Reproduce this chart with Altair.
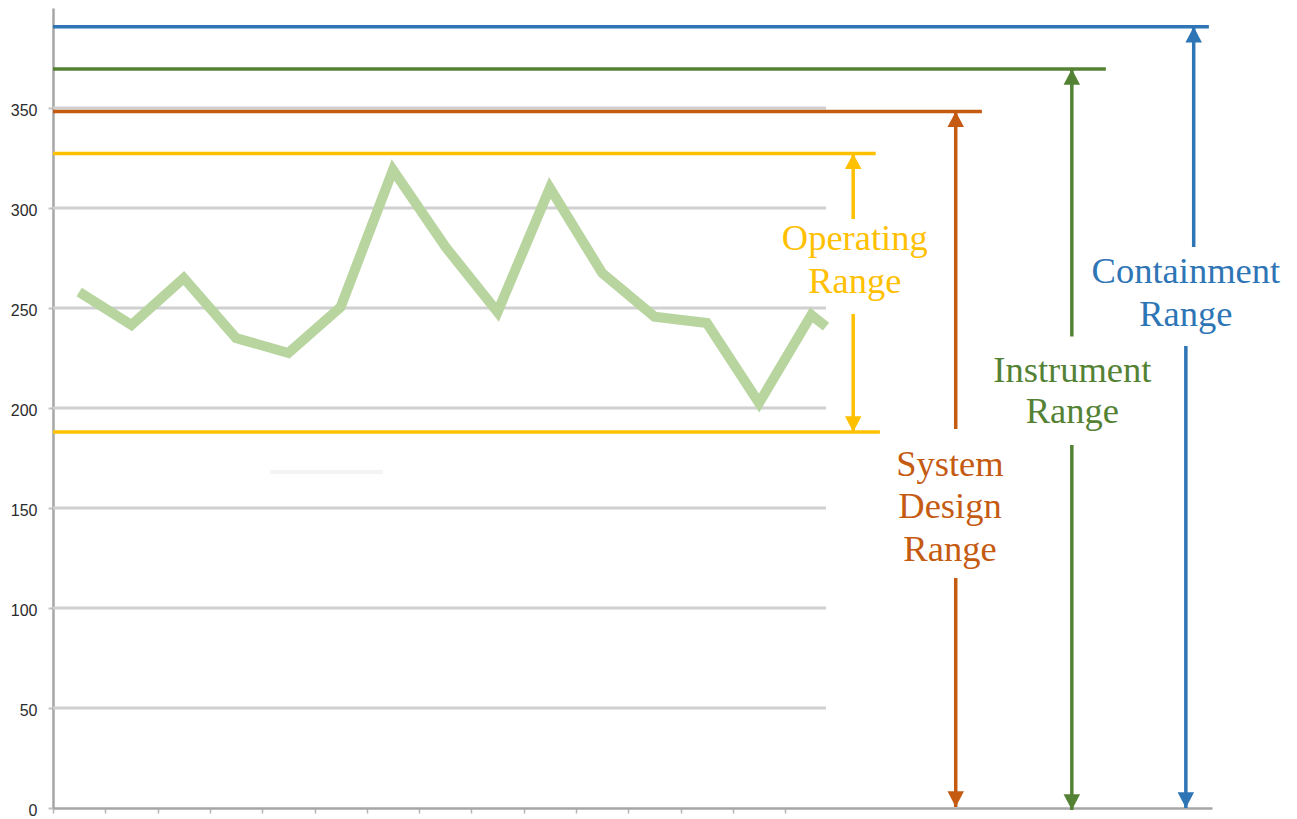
import altair as alt
import pandas as pd

# ---------------- data ----------------
# measured series (category index -> value); last entry is where the visible line is cut off
series_x = [1, 2, 3, 4, 5, 6, 7, 8, 9, 10, 11, 12, 13, 14, 15, 15.28]
series_y = [258, 241.5, 265, 235, 227.5, 250.5, 319, 280.7, 248, 310, 267.5, 245.7, 242.5, 202.5, 246.5, 240.7]

grid_values = [50, 100, 150, 200, 250, 300, 350]
grid_end = 15.28
y_tick_values = [0, 50, 100, 150, 200, 250, 300, 350]
x_tick_values = [0.5 + k for k in range(15)]

BLUE, GREEN, ORANGE, YELLOW = "#2e75b6", "#548235", "#c55a11", "#ffc000"

# horizontal range limit lines
range_level = [390.6, 369.5, 348.3, 327.3, 188.0]
range_end = [22.60, 20.63, 18.26, 16.23, 16.31]
range_color = [BLUE, GREEN, ORANGE, YELLOW, YELLOW]

# vertical arrow segments (x, from, to)
seg_x = [15.80, 15.80, 17.76, 17.76, 19.98, 19.98, 22.31, 22.16]
seg_y = [327.3, 247.0, 348.3, 115.0, 369.5, 181.5, 390.6, 231.0]
seg_y2 = [294.5, 188.0, 189.5, 0.5, 235.7, -1.0, 280.5, 0.0]
seg_color = [YELLOW, YELLOW, ORANGE, ORANGE, GREEN, GREEN, BLUE, BLUE]

# arrow heads
up_x = [15.80, 17.76, 19.98, 22.31]
up_y = [327.3, 348.3, 369.5, 390.6]
up_color = [YELLOW, ORANGE, GREEN, BLUE]
down_x = [15.80, 17.76, 19.98, 22.16]
down_y = [188.0, 0.5, -1.0, 0.0]
down_color = [YELLOW, ORANGE, GREEN, BLUE]

# labels (one row per text line)
label_text = ["Operating", "Range", "System", "Design", "Range", "Instrument", "Range", "Containment", "Range"]
label_x = [15.83, 15.83, 17.65, 17.65, 17.65, 19.99, 19.99, 22.16, 22.16]
label_y = [279.0, 257.5, 166.0, 144.85, 123.65, 213.15, 192.5, 262.35, 241.0]
label_color = [YELLOW, YELLOW, ORANGE, ORANGE, ORANGE, GREEN, GREEN, BLUE, BLUE]

# faint artifact stroke in the reference
artifact_x, artifact_x2, artifact_y = [4.65], [6.81], [168]

# ---------------- scales / axes ----------------
xscale = alt.Scale(domain=[0.5, 22.66], nice=False, zero=False)
yscale = alt.Scale(domain=[0, 400], nice=False, zero=False)
xaxis = alt.Axis(values=x_tick_values, labels=False, title=None, grid=False,
                 tickSize=5, tickColor="#b4b4b4", tickWidth=1.5,
                 domainColor="#a6a6a6", domainWidth=2.5)
yaxis = alt.Axis(values=y_tick_values, title=None, grid=False,
                 tickSize=5, tickColor="#c4c4c4", tickWidth=2,
                 domainColor="#a6a6a6", domainWidth=2.5,
                 labelFont="Liberation Sans", labelFontSize=16, labelColor="#2b2b2b",
                 labelPadding=11, labelOffset=2)


def X(f):
    return alt.X(f, type="quantitative", scale=xscale, axis=xaxis)


def Y(f):
    return alt.Y(f, type="quantitative", scale=yscale, axis=yaxis)


col = alt.Color("c:N", scale=None, legend=None)

grid_df = pd.DataFrame({"y": grid_values, "x": [0.5] * len(grid_values), "x2": [grid_end] * len(grid_values)})
grid = alt.Chart(grid_df).mark_rule(color="#d0d0d0", strokeWidth=3).encode(
    x=X("x"), x2="x2", y=Y("y"))

art_df = pd.DataFrame({"x": artifact_x, "x2": artifact_x2, "y": artifact_y})
artifact = alt.Chart(art_df).mark_rule(color="#f4f4f4", strokeWidth=4).encode(
    x=X("x"), x2="x2", y=Y("y"))

line_df = pd.DataFrame({"x": series_x, "y": series_y})
line = alt.Chart(line_df).mark_line(color="#b8d59f", strokeWidth=10,
                                    strokeCap="butt", strokeJoin="miter").encode(
    x=X("x"), y=Y("y"), order="x:Q")

rng_df = pd.DataFrame({"y": range_level, "x": [0.5] * 5, "x2": range_end, "c": range_color})
ranges = alt.Chart(rng_df).mark_rule(strokeWidth=3.5).encode(
    x=X("x"), x2="x2", y=Y("y"), color=col)

seg_df = pd.DataFrame({"x": seg_x, "y": seg_y, "y2": seg_y2, "c": seg_color})
segs = alt.Chart(seg_df).mark_rule(strokeWidth=3.5).encode(
    x=X("x"), y=Y("y"), y2="y2", color=col)

up_df = pd.DataFrame({"x": up_x, "y": up_y, "c": up_color})
ups = alt.Chart(up_df).mark_point(shape="M0,0L1,1.9L-1,1.9Z", filled=True, size=272,
                                  opacity=1, strokeWidth=0).encode(
    x=X("x"), y=Y("y"), fill=alt.Fill("c:N", scale=None, legend=None))

down_df = pd.DataFrame({"x": down_x, "y": down_y, "c": down_color})
downs = alt.Chart(down_df).mark_point(shape="M0,0L1,-1.9L-1,-1.9Z", filled=True, size=272,
                                      opacity=1, strokeWidth=0).encode(
    x=X("x"), y=Y("y"), fill=alt.Fill("c:N", scale=None, legend=None))

lab_df = pd.DataFrame({"x": label_x, "y": label_y, "t": label_text, "c": label_color})
labels = alt.Chart(lab_df).mark_text(font="Liberation Serif", fontSize=36.5,
                                     align="center", baseline="alphabetic").encode(
    x=X("x"), y=Y("y"), text="t:N", color=col)

chart = alt.layer(grid, artifact, line, ranges, segs, ups, downs, labels).properties(
    width=1159, height=800,
    padding={"left": 53, "top": 8, "right": 85, "bottom": 11},
    autosize=alt.AutoSizeParams(type="none"),
    background="white",
).configure_view(stroke=None)

chart.save("out.html", embed_options={"renderer": "svg", "actions": False})
